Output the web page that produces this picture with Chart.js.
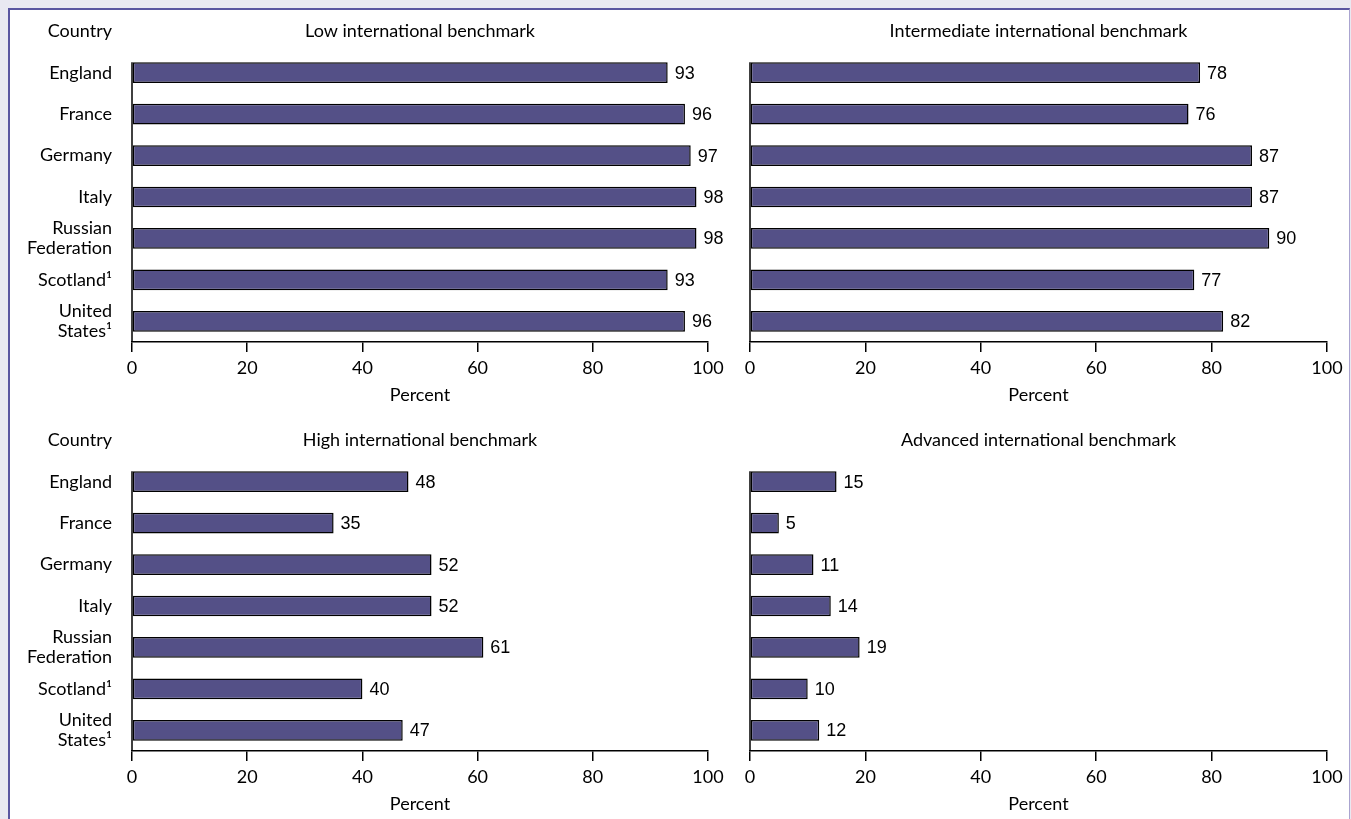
<!DOCTYPE html>
<html>
<head>
<meta charset="utf-8">
<script src="https://cdn.jsdelivr.net/npm/chart.js@4/dist/chart.umd.min.js"></script>
<style>
  html, body { margin: 0; padding: 0; }
  body { width: 1351px; height: 819px; background: #e9e8f1; position: relative; overflow: hidden; }
  #frame {
    position: absolute; left: 8px; top: 8px; width: 1339px; height: 900px;
    background: #fff;
    border-top: 2px solid #5a55a0; border-left: 2px solid #5a55a0; border-right: 1px solid #aaa4d0;
  }
  .panel { position: absolute; }
</style>
</head>
<body>
<div id="frame"></div>
<div class="panel" style="left:10px;top:10px;width:720px;height:400px"><canvas id="low"></canvas></div>
<div class="panel" style="left:730px;top:10px;width:620px;height:400px"><canvas id="intermediate"></canvas></div>
<div class="panel" style="left:10px;top:419px;width:720px;height:400px"><canvas id="high"></canvas></div>
<div class="panel" style="left:730px;top:419px;width:620px;height:400px"><canvas id="advanced"></canvas></div>
<script>
// Data
const countries = ['England', 'France', 'Germany', 'Italy', ['Russian', 'Federation'], 'Scotland\u00b9', ['United', 'States\u00b9']];
const lowValues = [93, 96, 97, 98, 98, 93, 96];
const intermediateValues = [78, 76, 87, 87, 90, 77, 82];
const highValues = [48, 35, 52, 52, 61, 40, 47];
const advancedValues = [15, 5, 11, 14, 19, 10, 12];
const xTicks = [0, 20, 40, 60, 80, 100];

const barColor = '#545087';
const textFont = 'Lato';

// titles, y axis line and the value labels
const panelDecor = {
    id: 'panelDecor',
    afterDraw(chart) {
        const ctx = chart.ctx;
        const area = chart.chartArea;
        const opts = chart.options.plugins.panelDecor;
        const bars = chart.getDatasetMeta(0).data;

        ctx.save();
        // y axis line from first bar top down to the x axis
        const first = bars[0];
        ctx.strokeStyle = '#000';
        ctx.lineWidth = 1.5;
        ctx.beginPath();
        ctx.moveTo(area.left, first.y - first.height / 2);
        ctx.lineTo(area.left, area.bottom);
        ctx.stroke();

        ctx.fillStyle = '#000';
        ctx.font = '18px ' + textFont;
        ctx.textBaseline = 'alphabetic';
        ctx.textAlign = 'center';
        ctx.fillText(opts.title, (area.left + area.right) / 2, area.top - 15);
        if (opts.showCountry) {
            ctx.textAlign = 'right';
            ctx.fillText('Country', area.left - 20, area.top - 15);
        }

        // value labels
        ctx.font = '18px "Liberation Sans", Arial, sans-serif';
        ctx.textAlign = 'left';
        ctx.textBaseline = 'middle';
        const values = chart.data.datasets[0].data;
        bars.forEach((bar, i) => {
            ctx.fillText(String(values[i]), bar.x + 7, bar.y + 1);
        });
        ctx.restore();
    }
};

function makePanel(id, title, values, showCountry) {
    const ctx = document.getElementById(id).getContext('2d');
    return new Chart(ctx, {
        type: 'bar',
        data: {
            labels: countries,
            datasets: [{
                data: values,
                backgroundColor: barColor,
                borderColor: '#000',
                borderWidth: 1.5,
                borderSkipped: false,
                barPercentage: 0.5,
                categoryPercentage: 1
            }]
        },
        options: {
            indexAxis: 'y',
            responsive: true,
            maintainAspectRatio: false,
            animation: false,
            layout: { padding: { top: 42, right: showCountry ? 22 : 23, left: 0, bottom: 0 } },
            plugins: {
                legend: { display: false },
                tooltip: { enabled: false },
                panelDecor: { title: title, showCountry: showCountry }
            },
            scales: {
                x: {
                    type: 'linear',
                    min: 0,
                    max: 100,
                    afterBuildTicks(scale) {
                        scale.ticks = xTicks.map(v => ({ value: v }));
                    },
                    afterFit(scale) { scale.height = 68; },
                    border: { display: true, color: '#000', width: 1.5 },
                    grid: { display: true, drawOnChartArea: false, drawTicks: true, tickLength: 10, color: '#000', lineWidth: 1.5 },
                    ticks: { color: '#000', padding: 5, maxRotation: 0, font: { family: textFont, size: 18 } },
                    title: { display: true, text: 'Percent', color: '#000', padding: { top: 0, bottom: 4 }, font: { family: textFont, size: 18 } }
                },
                y: {
                    afterFit(scale) { scale.width = showCountry ? 122 : 20; },
                    border: { display: false },
                    grid: { display: false, drawTicks: false },
                    ticks: {
                        display: showCountry,
                        autoSkip: false,
                        color: '#000',
                        padding: 20,
                        font: { family: textFont, size: 18, lineHeight: 1.1 }
                    }
                }
            }
        },
        plugins: [panelDecor]
    });
}

makePanel('low', 'Low international benchmark', lowValues, true);
makePanel('intermediate', 'Intermediate international benchmark', intermediateValues, false);
makePanel('high', 'High international benchmark', highValues, true);
makePanel('advanced', 'Advanced international benchmark', advancedValues, false);
</script>
</body>
</html>
